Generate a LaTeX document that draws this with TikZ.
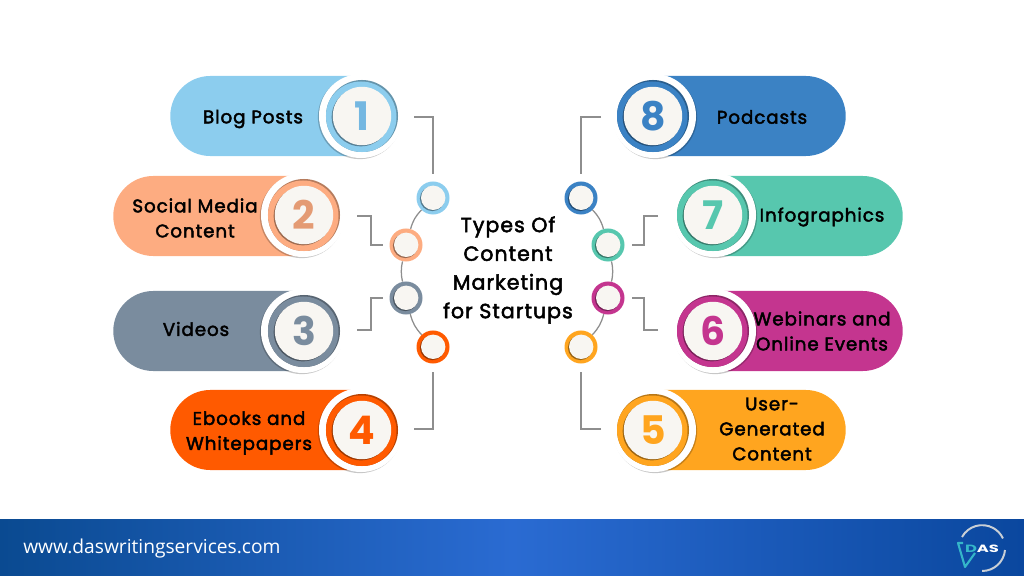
\documentclass[tikz,border=0pt]{standalone}
\usepackage{fontspec}
\usepackage{graphicx}
\setmainfont{Poppins}
\newfontfamily\labelfont{Poppins}[FakeBold=2.4, LetterSpace=5]
\newfontfamily\footfont{Open Sans}
\usetikzlibrary{shapes.misc, shadows}
\definecolor{blogblue}{HTML}{8CCDEE}
\definecolor{socialpeach}{HTML}{FDAC81}
\definecolor{videoslate}{HTML}{7A8C9E}
\definecolor{ebookorange}{HTML}{FF5A00}
\definecolor{userambler}{HTML}{FFA51F}
\definecolor{webinarpink}{HTML}{C4358F}
\definecolor{infoteal}{HTML}{57C7AE}
\definecolor{podblue}{HTML}{3B82C4}
\definecolor{capwhite}{HTML}{F8F6F2}
\definecolor{linegrey}{HTML}{8E8E8E}
\definecolor{footdark}{HTML}{0A4A91}
\definecolor{footmid}{HTML}{2A6BD2}
\definecolor{footend}{HTML}{0A479E}
\definecolor{logoteal}{HTML}{35B6C9}
\definecolor{logogrey}{HTML}{C9CFD6}
\begin{document}
\begin{tikzpicture}[
    x=0.025cm, y=-0.025cm,
    pillleft/.style={rounded rectangle, rounded rectangle right arc=none, fill=#1, minimum height=2cm, inner sep=0pt},
    pillright/.style={rounded rectangle, rounded rectangle left arc=none, fill=#1, minimum height=2cm, inner sep=0pt},
    badge/.style={circle, fill=white, minimum size=2.1cm, inner sep=0pt, drop shadow={shadow xshift=#1, shadow yshift=-0.8pt, fill=black, opacity=0.22}},
    ring/.style={circle, fill=#1!72!black, minimum size=1.8cm, inner sep=0pt, path picture={\fill[#1] ([shift={(-1,1)}]path picture bounding box.center) circle (35.5);}},
    cap/.style={circle, fill=capwhite, minimum size=1.46cm, inner sep=0pt, drop shadow={shadow xshift=-0.8pt, shadow yshift=-0.8pt, fill=#1!62!black, opacity=1}},
    num/.style={text=#1, font=\fontsize{28}{28}\selectfont\bfseries},
    dot/.style={circle, fill=#1, minimum size=0.825cm, inner sep=0pt, path picture={
        \fill[#1!60!black] ([shift={(-0.7,0.7)}]path picture bounding box.center) circle (12.4);
        \fill[capwhite] ([shift={(0.2,-0.2)}]path picture bounding box.center) circle (12.2);}},
    lbl/.style={align=center, text=black, font=\labelfont\fontsize{13}{17.8}\selectfont, inner sep=0pt},
    title/.style={align=center, text=black, font=\labelfont\fontsize{14.6}{20.4}\selectfont, inner sep=0pt},
    wire/.style={draw=linegrey, line width=0.9pt}
]
    \useasboundingbox (0,0) rectangle (1024,576);

    % Footer band
    \node[rectangle, left color=footdark, right color=footend, middle color=footmid, minimum width=25.6cm, minimum height=1.4cm, inner sep=0pt] (band) at (512,548) {};
    \node[text=white, font=\footfont\fontsize{13.65}{13.65}\selectfont, anchor=west, inner sep=0pt] (site) at (23,549) {www.daswritingservices.com};

    % Logo
    \draw[logogrey, line width=1.4pt] (962,537) arc (209:335:23);
    \draw[logogrey, line width=1.4pt] (1005,550) arc (5:90:23);
    \draw[logoteal, line width=1.5pt, line join=round] (963,543) -- (958,543) -- (965,567) -- (975,553);
    \node[text=white, font=\fontsize{7.5}{7.5}\selectfont\bfseries, inner sep=0pt] (logotext) at (982,549) {\scalebox{1.55}[1]{{\color{logoteal}D}AS}};

    % Left pills
    \node[pillleft=blogblue, minimum width=4.75cm, anchor=west] (pill1) at (170,116) {};
    \node[pillleft=socialpeach, minimum width=4.7cm, anchor=west] (pill2) at (113,216) {};
    \node[pillleft=videoslate, minimum width=4.7cm, anchor=west] (pill3) at (113,331) {};
    \node[pillleft=ebookorange, minimum width=4.75cm, anchor=west] (pill4) at (170,430) {};

    % Right pills
    \node[pillright=podblue, minimum width=4.75cm, anchor=east] (pill8) at (846,116) {};
    \node[pillright=infoteal, minimum width=4.7cm, anchor=east] (pill7) at (903,216) {};
    \node[pillright=webinarpink, minimum width=4.7cm, anchor=east] (pill6) at (903,331) {};
    \node[pillright=userambler, minimum width=4.75cm, anchor=east] (pill5) at (846,430) {};

    % Badges
    \node[badge=-0.8pt] (bg1) at (361,116) {};
    \node[ring=blogblue] (ring1) at (362,116) {};
    \node[cap=blogblue] (cap1) at (362,116) {};
    \node[num=blogblue!70!podblue] (num1) at (362,116) {1};

    \node[badge=-0.8pt] (bg2) at (303,215) {};
    \node[ring=socialpeach] (ring2) at (304,215) {};
    \node[cap=socialpeach] (cap2) at (304,215) {};
    \node[num=socialpeach!90!black] (num2) at (304,215) {2};

    \node[badge=-0.8pt] (bg3) at (303,331) {};
    \node[ring=videoslate] (ring3) at (304,331) {};
    \node[cap=videoslate] (cap3) at (304,331) {};
    \node[num=videoslate] (num3) at (304,331) {3};

    \node[badge=-0.8pt] (bg4) at (361,430) {};
    \node[ring=ebookorange] (ring4) at (362,430) {};
    \node[cap=ebookorange] (cap4) at (362,430) {};
    \node[num=ebookorange] (num4) at (362,430) {4};

    \node[badge=0.8pt] (bg8) at (654,116) {};
    \node[ring=podblue] (ring8) at (653,116) {};
    \node[cap=podblue] (cap8) at (653,116) {};
    \node[num=podblue] (num8) at (653,116) {8};

    \node[badge=0.8pt] (bg7) at (714,215) {};
    \node[ring=infoteal] (ring7) at (713,215) {};
    \node[cap=infoteal] (cap7) at (713,215) {};
    \node[num=infoteal] (num7) at (713,215) {7};

    \node[badge=0.8pt] (bg6) at (714,331) {};
    \node[ring=webinarpink] (ring6) at (713,331) {};
    \node[cap=webinarpink] (cap6) at (713,331) {};
    \node[num=webinarpink] (num6) at (713,331) {6};

    \node[badge=0.8pt] (bg5) at (654,430) {};
    \node[ring=userambler] (ring5) at (653,430) {};
    \node[cap=userambler] (cap5) at (653,430) {};
    \node[num=userambler] (num5) at (653,430) {5};

    % Small circles
    \node[dot=blogblue] (dot1) at (433,198) {};
    \node[dot=socialpeach] (dot2) at (406,245) {};
    \node[dot=videoslate] (dot3) at (406,298) {};
    \node[dot=ebookorange] (dot4) at (433,347) {};
    \node[dot=podblue] (dot8) at (581,198) {};
    \node[dot=infoteal] (dot7) at (608,245) {};
    \node[dot=webinarpink] (dot6) at (608,298) {};
    \node[dot=userambler] (dot5) at (581,347) {};

    % Arcs between the small circles
    \draw[wire] (dot1) to[bend right=14] (dot2);
    \draw[wire] (dot2) to[bend right=12] (dot3);
    \draw[wire] (dot3) to[bend right=14] (dot4);
    \draw[wire] (dot8) to[bend left=14] (dot7);
    \draw[wire] (dot7) to[bend left=12] (dot6);
    \draw[wire] (dot6) to[bend left=14] (dot5);

    % Connectors
    \coordinate (tip1) at (414,117);
    \coordinate (tip2) at (357,216);
    \coordinate (tip3) at (357,330);
    \coordinate (tip4) at (414,429);
    \coordinate (tip8) at (601,117);
    \coordinate (tip7) at (658,216);
    \coordinate (tip6) at (658,330);
    \coordinate (tip5) at (601,429);
    \draw[wire] (tip1) -| ([yshift=0.19cm]dot1.north);
    \draw[wire] (tip2) -- (371,216) |- ([xshift=-0.16cm]dot2.west);
    \draw[wire] (tip3) -- (371,330) |- ([xshift=-0.16cm]dot3.west);
    \draw[wire] (tip4) -| ([yshift=-0.2cm]dot4.south);
    \draw[wire] (tip8) -| ([yshift=0.19cm]dot8.north);
    \draw[wire] (tip7) -- (644,216) |- ([xshift=0.19cm]dot7.east);
    \draw[wire] (tip6) -- (644,330) |- ([xshift=0.19cm]dot6.east);
    \draw[wire] (tip5) -| ([yshift=-0.2cm]dot5.south);

    % Labels
    \node[lbl] (text1) at (253,119) {Blog Posts};
    \node[lbl] (text2) at (195,218) {Social Media\\Content};
    \node[lbl] (text3) at (196,329) {Videos};
    \node[lbl] (text4) at (249,433) {Ebooks and\\Whitepapers};
    \node[lbl] (text8) at (762,117) {Podcasts};
    \node[lbl] (text7) at (822,217) {Infographics};
    \node[lbl] (text6) at (822,331) {Webinars and\\Online Events};
    \node[lbl] (text5) at (772,429) {User-\\Generated\\Content};

    % Centre title
    \node[title] (title) at (508,270) {Types Of\\Content\\Marketing\\for Startups};
\end{tikzpicture}
\end{document}
